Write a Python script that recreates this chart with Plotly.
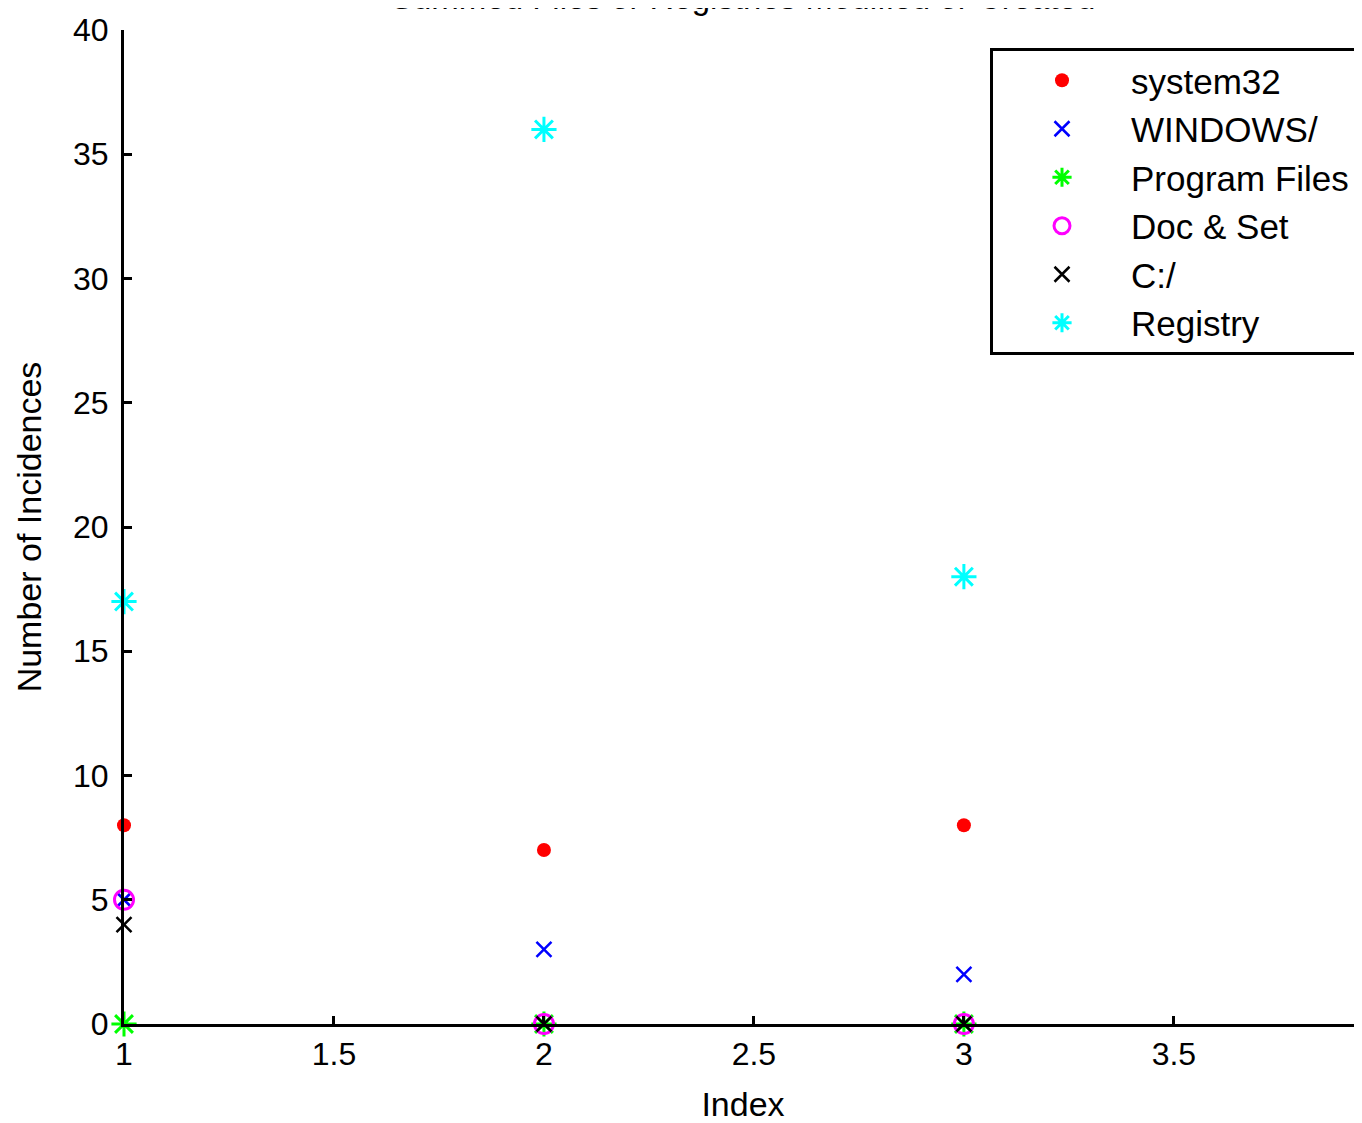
import plotly.graph_objects as go

index = [1, 2, 3]
system32 = [8, 7, 8]
windows = [5, 3, 2]
program_files = [0, 0, 0]
doc_set = [5, 0, 0]
c_root = [4, 0, 0]
registry = [17, 36, 18]

x_ticks = [1, 1.5, 2, 2.5, 3, 3.5]
y_ticks = [0, 5, 10, 15, 20, 25, 30, 35, 40]

FONT = "Liberation Sans, Arial, sans-serif"

series = [
    ("system32", system32, "circle", "#ff0000", 14, 0),
    ("WINDOWS/", windows, "x-thin-open", "#0000ff", 15, 2.5),
    ("Program Files", program_files, "asterisk-open", "#00ff00", 21, 3),
    ("Doc & Set", doc_set, "circle-open", "#ff00ff", 19, 3),
    ("C:/", c_root, "x-thin-open", "#000000", 15, 2.5),
    ("Registry", registry, "asterisk-open", "#00ffff", 21, 3),
]

# page body has an 8px margin; figure spans page px 8..1362 x 8..1123
PL, PT = 116, 22
PLOT_W = 1354 - PL
PLOT_H = 1016 - PT

fig = go.Figure()
for name, vals, sym, col, size, lw in series:
    fig.add_trace(go.Scatter(
        x=index, y=vals, mode="markers", name=name, cliponaxis=False,
        marker=dict(symbol=sym, color=col, size=size,
                    line=dict(color=col, width=lw)),
    ))

fig.update_layout(
    width=1354, height=1115,
    margin=dict(l=PL, r=0, t=PT, b=99, autoexpand=False),
    paper_bgcolor="white", plot_bgcolor="white",
    font=dict(family=FONT, size=32, color="black"),
    showlegend=True,
    legend=dict(
        x=(990 - 124) / PLOT_W, y=(1024 - 48) / PLOT_H, xanchor="left", yanchor="top",
        bordercolor="black", borderwidth=3, bgcolor="white",
        font=dict(family=FONT, size=35, color="black"),
        itemwidth=128,
    ),
    xaxis=dict(
        range=[1, 3.948], tickvals=x_ticks, ticktext=[str(t) for t in x_ticks],
        showline=True, linecolor="black", linewidth=3,
        ticks="inside", ticklen=8, tickwidth=3, tickcolor="black",
        showgrid=False, zeroline=False, ticklabelstandoff=0,
        title=dict(text="Index", font=dict(size=34), standoff=21),
        automargin=False,
    ),
    yaxis=dict(
        range=[0, 40], tickvals=y_ticks,
        showline=True, linecolor="black", linewidth=3,
        ticks="inside", ticklen=8, tickwidth=3, tickcolor="black",
        showgrid=False, zeroline=False, ticklabelstandoff=6,
        title=dict(text="Number of Incidences", font=dict(size=34), standoff=22),
        automargin=False,
    ),
    annotations=[dict(
        text="Summed Files or Registries Modified or Created",
        xref="paper", yref="paper", x=0.5, y=1 + (PT - 10) / PLOT_H,
        xanchor="center", yanchor="bottom", showarrow=False,
        font=dict(family=FONT, size=33, color="black"),
    )],
)

fig.write_html("out.html")
